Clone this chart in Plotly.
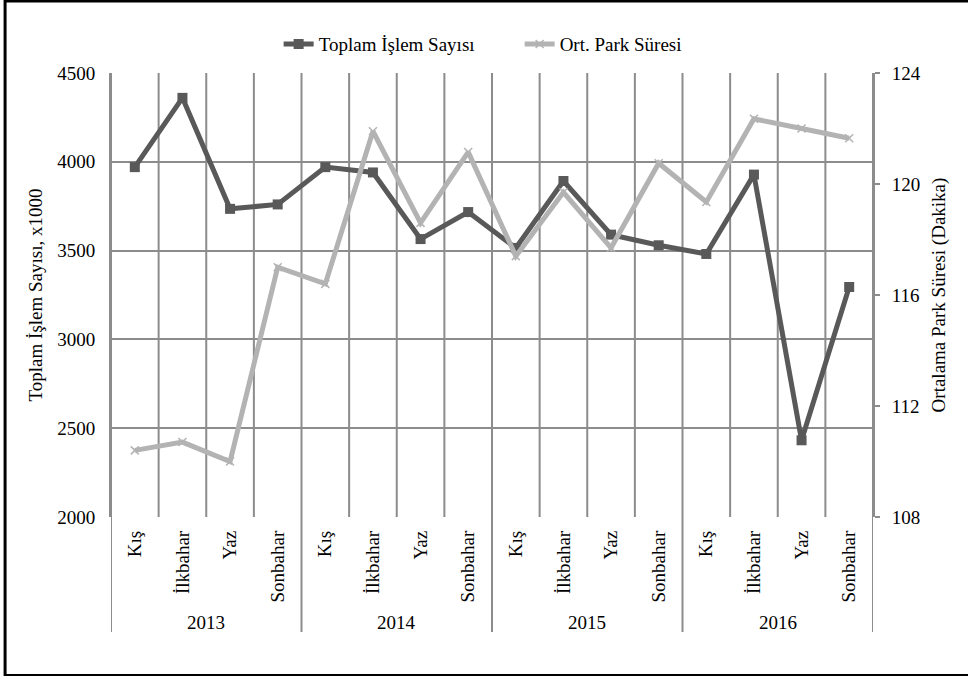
import plotly.graph_objects as go

years = ["2013", "2014", "2015", "2016"]
seasons = ["Kış", "İlkbahar", "Yaz", "Sonbahar"]
toplam = [3970, 4360, 3735, 3760, 3970, 3940, 3565, 3717,
          3515, 3892, 3590, 3530, 3481, 3928, 2432, 3295]
park = [110.4, 110.7, 110.0, 117.0, 116.4, 121.9, 118.6, 121.15,
        117.4, 119.7, 117.7, 120.75, 119.35, 122.35, 122.0, 121.65]

n = len(toplam)
xs = list(range(n))
labels = [seasons[i % 4] for i in range(n)]

FONT = "Liberation Serif, Times New Roman, serif"
GRID = "#8c8c8c"
DARK = "#595959"
LIGHT = "#b3b3b3"

fig = go.Figure()
fig.add_trace(go.Scatter(
    x=xs, y=toplam, name="Toplam İşlem Sayısı", mode="lines+markers",
    line=dict(color=DARK, width=5), marker=dict(symbol="square", size=10, color=DARK),
    yaxis="y"))
fig.add_trace(go.Scatter(
    x=xs, y=park, name="Ort. Park Süresi", mode="lines+markers",
    line=dict(color=LIGHT, width=5),
    marker=dict(symbol="x-thin", size=8, line=dict(color=LIGHT, width=1.5), color=LIGHT),
    yaxis="y2"))

shapes = []
for i in range(n + 1):
    b = i - 0.5
    is_year = (i % 4 == 0)
    shapes.append(dict(type="line", xref="x", yref="paper", x0=b, x1=b,
                       y0=-0.259 if is_year else 0, y1=1,
                       line=dict(color=GRID, width=2), layer="below"))
shapes.append(dict(type="rect", xref="paper", yref="paper",
                   x0=-0.139, x1=1.2, y0=-0.357, y1=1.162,
                   line=dict(color="black", width=3)))

annotations = []
for k, yv in enumerate(years):
    annotations.append(dict(x=4 * k + 1.5, y=-0.237, xref="x", yref="paper",
                            text=yv, showarrow=False, yanchor="middle",
                            font=dict(family=FONT, size=19, color="black")))

fig.update_layout(
    width=968, height=676,
    margin=dict(l=111, r=95, t=73, b=159),
    paper_bgcolor="white", plot_bgcolor="white",
    font=dict(family=FONT, size=19, color="black"),
    showlegend=True,
    legend=dict(orientation="h", x=0.22, xanchor="left", y=1.065, yanchor="middle",
                entrywidth=196, entrywidthmode="pixels",
                font=dict(family=FONT, size=19, color="black"), tracegroupgap=0),
    xaxis=dict(range=[-0.5, n - 0.5], tickmode="array", tickvals=xs, ticktext=labels,
               tickangle=-90, showgrid=False, zeroline=False, showline=False, ticks="",
               ticklabelstandoff=9, tickfont=dict(family=FONT, size=19)),
    yaxis=dict(range=[2000, 4500], dtick=500, showgrid=True, gridcolor=GRID, gridwidth=2,
               showline=True, linecolor=GRID, linewidth=2, ticks="", zeroline=False,
               ticklabelstandoff=10, tickfont=dict(family=FONT, size=19),
               title=dict(text="Toplam İşlem Sayısı, x1000", standoff=10,
                          font=dict(family=FONT, size=19))),
    yaxis2=dict(range=[108, 124], dtick=4, overlaying="y", side="right", showgrid=False,
                showline=True, linecolor=GRID, linewidth=2, ticks="outside", ticklen=5,
                tickcolor=GRID, tickwidth=2, zeroline=False, ticklabelstandoff=8,
                tickfont=dict(family=FONT, size=19),
                title=dict(text="Ortalama Park Süresi (Dakika)", standoff=12,
                           font=dict(family=FONT, size=19))),
    shapes=shapes, annotations=annotations,
)

fig.write_html("out.html")
